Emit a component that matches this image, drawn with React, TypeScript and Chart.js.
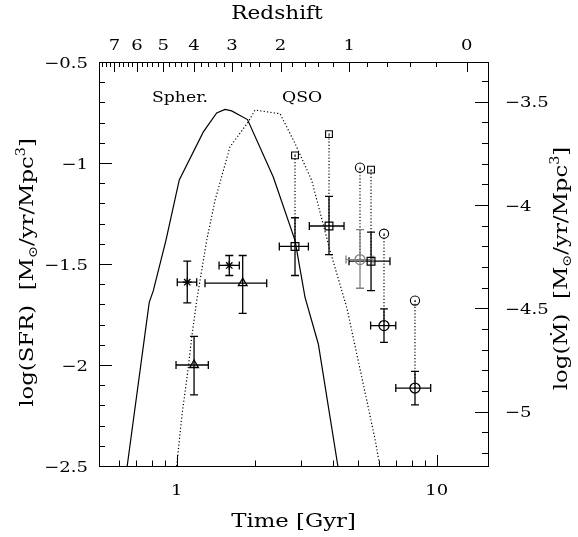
import React, { useEffect, useRef } from 'react';
import { Chart, registerables } from 'chart.js';

Chart.register(...registerables);

// ---------------- data ----------------
const spherTime = [0.645, 0.784, 0.813, 0.909, 1.023, 1.266, 1.425, 1.534, 1.627, 1.872, 2.352, 2.851, 3.116, 3.505, 4.173];
const spherLogSFR = [-2.5, -1.69, -1.632, -1.383, -1.084, -0.846, -0.752, -0.735, -0.742, -0.785, -1.069, -1.383, -1.665, -1.896, -2.505];

const qsoTime = [1.0, 1.045, 1.108, 1.142, 1.194, 1.304, 1.404, 1.603, 1.886, 2.0, 2.497, 2.851, 3.306, 3.888, 4.52, 5.79, 6.05];
const qsoLogSFR = [-2.5, -2.26, -2.012, -1.863, -1.681, -1.383, -1.185, -0.92, -0.796, -0.738, -0.756, -0.903, -1.086, -1.433, -1.721, -2.366, -2.505];

const starTime = [1.098, 1.593];
const starTimeLo = [1.005, 1.455];
const starTimeHi = [1.194, 1.741];
const starSFR = [-1.59, -1.507];
const starSFRLo = [-1.692, -1.557];
const starSFRHi = [-1.486, -1.458];

const triTime = [1.166, 1.794];
const triTimeLo = [0.994, 1.285];
const triTimeHi = [1.323, 2.219];
const triSFR = [-2.0, -1.595];
const triSFRLo = [-2.148, -1.744];
const triSFRHi = [-1.858, -1.458];

const sqTime = [2.851, 3.853, 5.59];
const sqTimeLo = [2.481, 3.236, 4.6];
const sqTimeHi = [3.21, 4.401, 6.61];
const sqSFR = [-1.413, -1.312, -1.486];
const sqSFRLo = [-1.557, -1.454, -1.632];
const sqSFRHi = [-1.271, -1.165, -1.342];
const sqSFRUpper = [-0.962, -0.857, -1.033];

const circTime = [5.07, 6.27, 8.25];
const circTimeLo = [4.479, 5.57, 6.96];
const circTimeHi = [5.69, 6.96, 9.48];
const circSFR = [-1.478, -1.805, -2.114];
const circSFRLo = [-1.62, -1.888, -2.197];
const circSFRHi = [-1.33, -1.722, -2.032];
const circSFRUpper = [-1.023, -1.35, -1.681];

// axes
const TIME_MIN = 0.5025;
const TIME_MAX = 15.75;
const SFR_MIN = -2.5;
const SFR_MAX = -0.5;
const MDOT_MIN = -5.263;
const MDOT_MAX = -3.308;
const timeMajorTicks = [1, 10];
const timeMinorTicks = [0.6, 0.7, 0.8, 0.9, 2, 3, 4, 5, 6, 7, 8, 9];
const redshiftMajorTicks = [0, 1, 2, 3, 4, 5, 6, 7];
const redshiftMinorTicks = [0.2, 0.4, 0.6, 0.8, 1.2, 1.4, 1.6, 1.8, 2.2, 2.4, 2.6, 2.8, 3.2, 3.4, 3.6, 3.8, 4.2, 4.4, 4.6, 4.8, 5.2, 5.4, 5.6, 5.8, 6.2, 6.4, 6.6, 6.8, 7.2, 7.4, 7.6];
const sfrMajorTicks = [-2.5, -2, -1.5, -1, -0.5];
const mdotMajorTicks = [-5, -4.5, -4, -3.5];

// Einstein-de Sitter age at redshift z for the top axis
const AGE_NOW = 13.04;
const timeAtRedshift = (z: number) => AGE_NOW * Math.pow(1 + z, -1.5);

// ---------------- drawing helpers ----------------
const FONT = '"DejaVu Serif", "Liberation Serif", serif';
const SX = 1.2;

type Part = { t: string; size: number; dy?: number };

function fmt(v: number) {
  return (v < 0 ? '\u2212' : '') + String(Math.abs(v));
}

function textAt(ctx: CanvasRenderingContext2D, parts: Part[], x: number, y: number, align: 'left' | 'center' | 'right', rot = 0, sx = SX) {
  ctx.save();
  ctx.translate(x, y);
  if (rot) ctx.rotate(rot);
  const widths = parts.map((p) => {
    ctx.font = `${p.size}px ${FONT}`;
    return ctx.measureText(p.t).width;
  });
  const total = widths.reduce((a, b) => a + b, 0);
  let x0 = align === 'left' ? 0 : align === 'center' ? -total / 2 : -total;
  ctx.scale(sx, 1);
  ctx.textAlign = 'left';
  ctx.textBaseline = 'alphabetic';
  ctx.fillStyle = '#000';
  parts.forEach((p, i) => {
    ctx.font = `${p.size}px ${FONT}`;
    ctx.fillText(p.t, x0, p.dy || 0);
    x0 += widths[i];
  });
  ctx.restore();
}

function minorRange(from: number, to: number, step: number) {
  const out: number[] = [];
  const n = Math.round((to - from) / step);
  for (let i = 0; i <= n; i++) out.push(Math.round((from + i * step) * 10) / 10);
  return out;
}

const errGroups = [
  { t: starTime, tl: starTimeLo, th: starTimeHi, v: starSFR, vl: starSFRLo, vh: starSFRHi, up: null as number[] | null },
  { t: triTime, tl: triTimeLo, th: triTimeHi, v: triSFR, vl: triSFRLo, vh: triSFRHi, up: null as number[] | null },
  { t: sqTime, tl: sqTimeLo, th: sqTimeHi, v: sqSFR, vl: sqSFRLo, vh: sqSFRHi, up: sqSFRUpper },
  { t: circTime, tl: circTimeLo, th: circTimeHi, v: circSFR, vl: circSFRLo, vh: circSFRHi, up: circSFRUpper },
];

const customPlugin = {
  id: 'customDraw',
  beforeDatasetsDraw(chart: any) {
    const { ctx, scales } = chart;
    const xs = scales.x;
    const ys = scales.y;
    ctx.save();
    errGroups.forEach((g, gi) => {
      g.t.forEach((t, i) => {
        const color = gi === 3 && i === 0 ? '#808080' : '#000';
        const px = xs.getPixelForValue(t);
        const py = ys.getPixelForValue(g.v[i]);
        // dotted connector to upper point
        if (g.up) {
          ctx.strokeStyle = '#000';
          ctx.lineWidth = 1.2;
          ctx.setLineDash([1.2, 2]);
          ctx.beginPath();
          ctx.moveTo(px, py);
          ctx.lineTo(px, ys.getPixelForValue(g.up[i]));
          ctx.stroke();
          ctx.setLineDash([]);
        }
        ctx.strokeStyle = color;
        ctx.lineWidth = 1.3;
        const x1 = xs.getPixelForValue(g.tl[i]);
        const x2 = xs.getPixelForValue(g.th[i]);
        const y1 = ys.getPixelForValue(g.vl[i]);
        const y2 = ys.getPixelForValue(g.vh[i]);
        const c = 4;
        ctx.beginPath();
        ctx.moveTo(x1, py); ctx.lineTo(x2, py);
        ctx.moveTo(x1, py - c); ctx.lineTo(x1, py + c);
        ctx.moveTo(x2, py - c); ctx.lineTo(x2, py + c);
        ctx.moveTo(px, y1); ctx.lineTo(px, y2);
        ctx.moveTo(px - c, y1); ctx.lineTo(px + c, y1);
        ctx.moveTo(px - c, y2); ctx.lineTo(px + c, y2);
        ctx.stroke();
      });
    });
    ctx.restore();
  },
  afterDatasetsDraw(chart: any) {
    // small dots in the centres of the upper (open) points
    const { ctx } = chart;
    ctx.save();
    ctx.fillStyle = '#000';
    chart.data.datasets.forEach((ds: any, di: number) => {
      if (!ds.centerDot) return;
      chart.getDatasetMeta(di).data.forEach((el: any) => {
        ctx.fillRect(Math.round(el.x) - 0.5, Math.round(el.y) - 0.5, 1.3, 1.3);
      });
    });
    ctx.restore();
  },
  afterDraw(chart: any) {
    const { ctx, chartArea: a, scales } = chart;
    const xs = scales.x;
    const x2s = scales.x2;
    const ys = scales.y;
    const y2s = scales.y2;
    ctx.save();
    ctx.strokeStyle = '#000';
    ctx.lineWidth = 1;
    ctx.beginPath();
    // left axis ticks
    minorRange(SFR_MIN, SFR_MAX, 0.1).forEach((v) => {
      const py = Math.round(ys.getPixelForValue(v)) + 0.5;
      const major = sfrMajorTicks.some((m) => Math.abs(m - v) < 1e-6);
      ctx.moveTo(a.left, py);
      ctx.lineTo(a.left + (major ? 13 : 6), py);
    });
    // right axis ticks
    minorRange(-5.2, -3.4, 0.1).forEach((v) => {
      const py = Math.round(y2s.getPixelForValue(v)) + 0.5;
      const major = mdotMajorTicks.some((m) => Math.abs(m - v) < 1e-6);
      ctx.moveTo(a.right, py);
      ctx.lineTo(a.right - (major ? 13 : 6), py);
    });
    // bottom ticks
    timeMajorTicks.concat(timeMinorTicks).forEach((t) => {
      const px = Math.round(xs.getPixelForValue(t)) + 0.5;
      const major = timeMajorTicks.indexOf(t) >= 0;
      ctx.moveTo(px, a.bottom);
      ctx.lineTo(px, a.bottom - (major ? 11 : 5.5));
    });
    // top ticks (redshift)
    redshiftMajorTicks.concat(redshiftMinorTicks).forEach((z) => {
      const px = Math.round(x2s.getPixelForValue(timeAtRedshift(z))) + 0.5;
      const major = redshiftMajorTicks.indexOf(z) >= 0;
      ctx.moveTo(px, a.top);
      ctx.lineTo(px, a.top + (major ? 10 : 5));
    });
    ctx.stroke();
    ctx.restore();

    // tick labels
    sfrMajorTicks.forEach((v) => {
      textAt(ctx, [{ t: fmt(v), size: 15 }], a.left - 11, ys.getPixelForValue(v) + 5.5, 'right');
    });
    mdotMajorTicks.forEach((v) => {
      textAt(ctx, [{ t: fmt(v), size: 15 }], a.right + 17, y2s.getPixelForValue(v) + 5.5, 'left');
    });
    timeMajorTicks.forEach((t) => {
      textAt(ctx, [{ t: String(t), size: 15 }], xs.getPixelForValue(t), a.bottom + 29, 'center');
    });
    redshiftMajorTicks.forEach((z) => {
      textAt(ctx, [{ t: String(z), size: 15 }], x2s.getPixelForValue(timeAtRedshift(z)), a.top - 12, 'center');
    });

    // axis titles
    textAt(ctx, [{ t: 'Redshift', size: 18 }], 277, 18.5, 'center');
    textAt(ctx, [{ t: 'Time [Gyr]', size: 19 }], (a.left + a.right) / 2, 527, 'center');
    textAt(
      ctx,
      [
        { t: 'log(SFR)  [M', size: 19 },
        { t: '\u2299', size: 12, dy: 4 },
        { t: '/yr/Mpc', size: 19 },
        { t: '3', size: 12, dy: -8 },
        { t: ']', size: 19 },
      ],
      32.5,
      272.5,
      'center',
      -Math.PI / 2
    );
    textAt(
      ctx,
      [
        { t: 'log(\u1E40)  [M', size: 19 },
        { t: '\u2299', size: 12, dy: 4 },
        { t: '/yr/Mpc', size: 19 },
        { t: '3', size: 12, dy: -8 },
        { t: ']', size: 19 },
      ],
      566.5,
      268.5,
      'center',
      -Math.PI / 2
    );

    // curve labels
    textAt(ctx, [{ t: 'Spher.', size: 15 }], 152, 101.5, 'left', 0, 1.15);
    textAt(ctx, [{ t: 'QSO', size: 15 }], 282, 101.5, 'left', 0, 1.15);
  },
};

const toXY = (xs: number[], ys: number[]) => xs.map((x, i) => ({ x, y: ys[i] }));

export default function App() {
  const canvasRef = useRef<HTMLCanvasElement | null>(null);

  useEffect(() => {
    document.body.style.margin = '0';
    const canvas = canvasRef.current;
    if (!canvas) return;
    const noAxisTicks = { display: false };
    const noGrid = { display: false, drawTicks: false };
    const border = { display: true, color: '#000', width: 1 };
    const chart = new Chart(canvas, {
      type: 'scatter',
      data: {
        datasets: [
          {
            label: 'Spher.',
            data: toXY(spherTime, spherLogSFR),
            showLine: true,
            borderColor: '#000',
            borderWidth: 1.2,
            pointRadius: 0,
            tension: 0,
          },
          {
            label: 'QSO',
            data: toXY(qsoTime, qsoLogSFR),
            showLine: true,
            borderColor: '#000',
            borderWidth: 1.2,
            borderDash: [1.2, 2.2],
            pointRadius: 0,
            tension: 0,
          },
          {
            label: 'stars',
            data: toXY(starTime, starSFR),
            pointStyle: 'star',
            pointRadius: 4.5,
            borderColor: '#000',
            borderWidth: 1.3,
            backgroundColor: 'rgba(0,0,0,0)',
          },
          {
            label: 'triangles',
            data: toXY(triTime, triSFR),
            pointStyle: 'triangle',
            pointRadius: 5,
            borderColor: '#000',
            borderWidth: 1.3,
            backgroundColor: 'rgba(0,0,0,0)',
          },
          {
            label: 'squares',
            data: toXY(sqTime, sqSFR),
            pointStyle: 'rect',
            pointRadius: 5.5,
            borderColor: '#000',
            borderWidth: 1.2,
            backgroundColor: 'rgba(0,0,0,0)',
          },
          {
            label: 'circles',
            data: toXY(circTime, circSFR),
            pointStyle: 'circle',
            pointRadius: 5,
            borderColor: (c: any) => (c.dataIndex === 0 ? '#808080' : '#000'),
            borderWidth: 1.3,
            backgroundColor: 'rgba(0,0,0,0)',
          },
          {
            label: 'squares upper',
            data: toXY(sqTime, sqSFRUpper),
            pointStyle: 'rect',
            pointRadius: 4.8,
            borderColor: '#000',
            borderWidth: 1.1,
            backgroundColor: 'rgba(0,0,0,0)',
            centerDot: true,
          } as any,
          {
            label: 'circles upper',
            data: toXY(circTime, circSFRUpper),
            pointStyle: 'circle',
            pointRadius: 4.6,
            borderColor: '#000',
            borderWidth: 1.1,
            backgroundColor: 'rgba(0,0,0,0)',
            centerDot: true,
          } as any,
        ],
      },
      options: {
        animation: false,
        responsive: false,
        devicePixelRatio: 1,
        events: [],
        layout: { padding: 0 },
        plugins: { legend: { display: false }, tooltip: { enabled: false }, title: { display: false } },
        scales: {
          x: {
            type: 'logarithmic',
            position: 'bottom',
            min: TIME_MIN,
            max: TIME_MAX,
            ticks: noAxisTicks,
            grid: noGrid,
            border,
            afterFit: (s: any) => { s.height = 71; },
          },
          x2: {
            type: 'logarithmic',
            position: 'top',
            min: TIME_MIN,
            max: TIME_MAX,
            ticks: noAxisTicks,
            grid: noGrid,
            border,
            afterFit: (s: any) => { s.height = 62; },
          },
          y: {
            type: 'linear',
            position: 'left',
            min: SFR_MIN,
            max: SFR_MAX,
            ticks: noAxisTicks,
            grid: noGrid,
            border,
            afterFit: (s: any) => { s.width = 99; },
          },
          y2: {
            type: 'linear',
            position: 'right',
            min: MDOT_MIN,
            max: MDOT_MAX,
            ticks: noAxisTicks,
            grid: noGrid,
            border,
            afterFit: (s: any) => { s.width = 90; },
          },
        },
      } as any,
      plugins: [customPlugin],
    });
    return () => chart.destroy();
  }, []);

  return (
    <div style={{ width: 578, height: 537, background: '#fff' }}>
      <canvas ref={canvasRef} width={578} height={537} style={{ display: 'block' }} />
    </div>
  );
}
